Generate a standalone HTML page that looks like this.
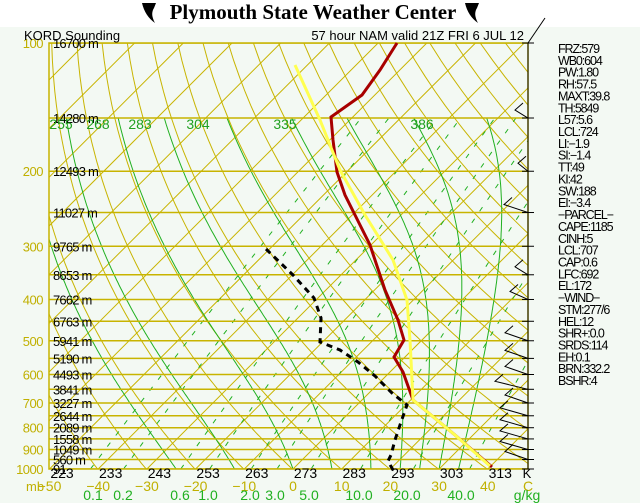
<!DOCTYPE html>
<html><head><meta charset="utf-8"><style>
html,body{margin:0;padding:0;background:#fff;}
#c{position:relative;width:640px;height:503px;overflow:hidden;}
</style></head><body><div id="c">
<svg id="s" width="640" height="503" xmlns="http://www.w3.org/2000/svg" style="position:absolute;left:0;top:0">
<rect x="0" y="0" width="640" height="503" fill="#fff"/>
<rect x="0" y="27" width="640" height="476" fill="#f3f9f3"/>
<text x="313" y="19" font-family="Liberation Serif, serif" font-weight="bold" font-size="21" text-anchor="middle" fill="#000">Plymouth State Weather Center</text>
<path d="M142 3 L156 3 L154 8 Q150 14 155 23 Q145 16 142 3Z" fill="#000"/>
<path d="M465 3 L479 3 L477 8 Q473 14 478 23 Q468 16 465 3Z" fill="#000"/>
<g id="g"></g>
<text x="24" y="40" font-family="Liberation Sans, sans-serif" font-size="13" fill="#000">KORD Sounding</text>
<text x="524" y="40" font-family="Liberation Sans, sans-serif" font-size="13" fill="#000" text-anchor="end">57 hour NAM valid 21Z FRI 6 JUL 12</text>
</svg>
<script>
var g=document.getElementById('g');var h='';
function Y(p){return 43+426*Math.log10(p/100);}
function X(T,p){return 293+4.87*T+(469-Y(p));}
function line(pts,st){var d='M'+pts.map(function(q){return q[0].toFixed(1)+' '+q[1].toFixed(1)}).join(' L');h+='<path d="'+d+'" fill="none" '+st+'/>';}
h+='<defs><clipPath id="cp"><rect x="49" y="43" width="479" height="426"/></clipPath></defs><g clip-path="url(#cp)">';
for(var T=-140;T<=60;T+=10){line([[X(T,1000),469],[X(T,100),43]],'stroke="#c8b400" stroke-width="1"');}
for(var th=213;th<=520;th+=10){var pts=[];for(var p=1000;p>=100;p-=10){pts.push([X(th*Math.pow(p/1000,0.286)-273.15,p),Y(p)]);}line(pts,'stroke="#c8b400" stroke-width="1"');}
function es(T){return 6.112*Math.exp(17.67*T/(T+243.5));}
function ws(T,p){var e=es(T);return 0.622*e/(p-e);}
function gm(T,p){var Tk=T+273.15,r=ws(T,p),L=2.5e6;return (0.286*Tk/p)*(1+L*r/(287*Tk))/(1+0.622*L*L*r/(1004*287*Tk*Tk));}
[-24,-12,0,8,16,22,26,30,34].forEach(function(T0){var T=T0,pts=[];for(var p=1000;p>=150;p-=5){pts.push([X(T,p),Y(p)]);T-=gm(T,p)*5;}line(pts,'stroke="#20b020" stroke-width="1"');});
[0.1,0.2,0.6,1,2,3,5,10,20,40].forEach(function(w){var pts=[];for(var p=1000;p>=150;p-=10){var e=w/1000*p/(0.622+w/1000);var l=Math.log(e/6.112);var T=243.5*l/(17.67-l);pts.push([X(T,p),Y(p)]);}line(pts,'stroke="#20b020" stroke-width="1" stroke-dasharray="5,9"');});
for(var p=100;p<=1000;p+=50){h+='<line x1="49" x2="528" y1="'+Y(p)+'" y2="'+Y(p)+'" stroke="#c8b400" stroke-width="1.5"/>';}
h+='</g><rect x="49" y="43" width="479" height="426" fill="none" stroke="#c8b400" stroke-width="1.5"/>';
line([[397,43],[380,70],[362,95],[331,117],[333,140],[337,172],[345,195],[355,215],[370,245],[385,290],[398,320],[404,340],[394,357],[403,372],[413,400],[455,435],[492,467]],'stroke="#a80000" stroke-width="3"');
line([[295,65],[320,120],[340,170],[365,215],[393,260],[407,300],[410,340],[413,400],[455,435],[490,466]],'stroke="#ffff50" stroke-width="3"');
line([[266,249],[293,275],[314,298],[321,318],[320,342],[340,350],[358,362],[375,376],[392,393],[407,405],[401,422],[395,440],[391,455],[388,461],[393,470]],'stroke="#000" stroke-width="3" stroke-dasharray="6,5"');
var hl=[[100,'16700 m'],[150,'14280 m'],[200,'12493 m'],[250,'11027 m'],[300,'9765 m'],[350,'8653 m'],[400,'7662 m'],[450,'6763 m'],[500,'5941 m'],[550,'5190 m'],[600,'4493 m'],[650,'3841 m'],[700,'3227 m'],[750,'2644 m'],[800,'2089 m'],[850,'1558 m'],[900,'1049 m'],[950,'560 m'],[1000,'91']];
hl.forEach(function(a){h+='<text x="53" y="'+(Y(a[0])+5)+'" font-family="Liberation Sans,sans-serif" font-size="13" letter-spacing="-0.8" fill="#000">'+a[1]+'</text>';});
for(var p=100;p<=1000;p+=100){h+='<text x="43" y="'+(Y(p)+5)+'" font-family="Liberation Sans,sans-serif" font-size="13" letter-spacing="-0.5" fill="#c0b000" text-anchor="end">'+p+'</text>';}
['255:49','268:86','283:128','304:186','335:273','386:410'].forEach(function(s){var a=s.split(':');h+='<text x="'+(+a[1]+12)+'" y="129" font-family="Liberation Sans,sans-serif" font-size="14" fill="#20a020" text-anchor="middle">'+a[0]+'</text>';});
var th=[223,233,243,253,263,273,283,293,303,313];th.forEach(function(t,i){h+='<text x="'+(62+i*48.7)+'" y="478" font-family="Liberation Sans,sans-serif" font-size="14" fill="#000" text-anchor="middle">'+t+'</text>';});
h+='<text x="527" y="478" font-family="Liberation Sans,sans-serif" font-size="13" fill="#000" text-anchor="middle">K</text>';
h+='<text x="26" y="491" font-family="Liberation Sans,sans-serif" font-size="13" fill="#c0b000">mb</text>';
for(var T=-50;T<=40;T+=10){h+='<text x="'+(293+4.87*T)+'" y="491" font-family="Liberation Sans,sans-serif" font-size="14" fill="#c0b000" text-anchor="middle">'+(T<0?'\u2212'+(-T):T)+'</text>';}
h+='<text x="528" y="491" font-family="Liberation Sans,sans-serif" font-size="14" fill="#c0b000" text-anchor="middle">C</text>';
[['0.1',93],['0.2',123],['0.6',180],['1.0',208],['2.0',250],['3.0',275],['5.0',309],['10.0',359],['20.0',407],['40.0',461],['g/kg',527]].forEach(function(a){h+='<text x="'+a[1]+'" y="500" font-family="Liberation Sans,sans-serif" font-size="14" fill="#20b020" text-anchor="middle">'+a[0]+'</text>';});
h+='<line x1="528" y1="43" x2="528" y2="469" stroke="#000" stroke-width="1"/>';
for(var p=100;p<=1000;p+=50){var y=Y(p);h+='<line x1="522" x2="534" y1="'+y+'" y2="'+y+'" stroke="#000"/>';}
[[150,515,95],[200,518,148],[250,504,195],[350,515,268],[400,510,300],[500,505,335],[550,505,360],[600,505,380],[650,495,378],[700,505,395],[750,500,410],[800,500,425],[850,500,440],[900,500,455],[950,505,462]].forEach(function(b){var y=Y(b[0]);h+='<polyline points="528,'+y+' '+b[1]+','+(y-8)+' '+(b[1]+8)+','+(y-15)+'" fill="none" stroke="#000"/>';});
h+='<line x1="528" y1="43" x2="545" y2="18" stroke="#000"/>';
var idx=['FRZ:579','WB0:604','PW:1.80','RH:57.5','MAXT:39.8','TH:5849','L57:5.6','LCL:724','LI:\u22121.9','SI:\u22121.4','TT:49','KI:42','SW:188','EI:\u22123.4','\u2212PARCEL\u2212','CAPE:1185','CINH:5','LCL:707','CAP:0.6','LFC:692','EL:172','\u2212WIND\u2212','STM:277/6','HEL:12','SHR+:0.0','SRDS:114','EH:0.1','BRN:332.2','BSHR:4'];
idx.forEach(function(s,i){h+='<text x="558" y="'+(53+i*11.86)+'" font-family="Liberation Sans,sans-serif" font-size="12.5" fill="#000" letter-spacing="-1.1">'+s+'</text>';});
g.innerHTML=h;
</script>
</div></body></html>
